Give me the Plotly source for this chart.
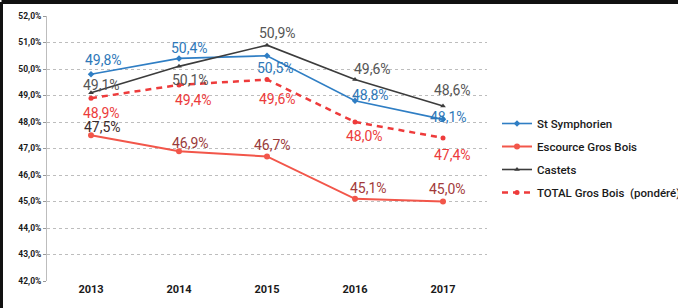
import plotly.graph_objects as go

years = ["2013", "2014", "2015", "2016", "2017"]
st_symphorien = [49.8, 50.4, 50.5, 48.8, 48.1]
escource = [47.5, 46.9, 46.7, 45.1, 45.0]
castets = [49.1, 50.1, 50.9, 49.6, 48.6]
total = [48.9, 49.4, 49.6, 48.0, 47.4]
y_ticks = [42, 43, 44, 45, 46, 47, 48, 49, 50, 51, 52]
names = ["St Symphorien", "Escource Gros Bois", "Castets", "TOTAL Gros Bois  (pondéré)"]

W, H = 678, 308
ML, MR, MT, MB = 47, 0, 16, 27
PW = W - ML - MR
PH = H - MT - MB

BLUE = "#2f7ec4"
RED = "#f2564a"
DARK = "#3c3c3c"
TRED = "#ee3b3b"
FONT = "Roboto, Liberation Sans, sans-serif"

fig = go.Figure()
fig.add_trace(go.Scatter(x=years, y=st_symphorien, name=names[0], mode="lines+markers", legendgroup="a",
                         line=dict(color=BLUE, width=1.6), marker=dict(symbol="diamond", size=5)))
fig.add_trace(go.Scatter(x=years, y=escource, name=names[1], mode="lines+markers", legendgroup="b",
                         line=dict(color=RED, width=2), marker=dict(symbol="circle", size=6)))
fig.add_trace(go.Scatter(x=years, y=castets, name=names[2], mode="lines+markers", legendgroup="c",
                         line=dict(color=DARK, width=1.6), marker=dict(symbol="triangle-up", size=5)))
fig.add_trace(go.Scatter(x=years, y=total, name=names[3], mode="lines+markers", legendgroup="d",
                         line=dict(color=TRED, width=2.5, dash="6px,5px"),
                         marker=dict(symbol="circle", size=5)))

def fmt(v):
    return f"{v:.1f}".replace(".", ",") + "%"

# (series, colors, pixel shifts per point)
label_specs = [
    (st_symphorien, ["#2e78b8"] * 5, [(12, 14), (10, 10), (8, -12), (15, 6), (5, 2)]),
    (castets, ["#555555"] * 5, [(10, 8), (11, -14), (10, 12), (17, 11), (9, 16)]),
    (escource, ["#3a2a2a", "#9a3a3a", "#9a3a3a", "#a33a3a", "#a33a3a"], [(11, 8), (11, 8), (5, 11), (13, 11), (4, 13)]),
    (total, ["#ec3b3b"] * 5, [(10, -15), (14, -15), (10, -19), (9, -14), (9, -17)]),
]
for series, colors, shifts in label_specs:
    for i, (v, c, (dx, dy)) in enumerate(zip(series, colors, shifts)):
        fig.add_annotation(x=i, y=v, text=fmt(v), showarrow=False, xshift=dx, yshift=dy,
                           font=dict(family=FONT, size=14, color=c))

# outer frame
x0 = (-ML + 1.5) / PW
x1 = (W - ML) / PW
y0 = -MB / PH
y1 = (H - MB - 2) / PH
fig.add_shape(type="line", xref="paper", yref="paper", x0=x0, x1=x1, y0=y1, y1=y1,
              line=dict(color="#111111", width=4))
fig.add_shape(type="line", xref="paper", yref="paper", x0=x0, x1=x0, y0=y0, y1=y1,
              line=dict(color="#111111", width=3))

fig.update_layout(
    width=W, height=H,
    margin=dict(l=ML, r=MR, t=MT, b=MB, autoexpand=False),
    paper_bgcolor="white", plot_bgcolor="white",
    separators=", ",
    showlegend=True,
    legend=dict(x=(497 - ML) / PW, y=(H - MB - 109) / PH, xanchor="left", yanchor="top",
                font=dict(family=FONT, size=11.5, color="#1a1a1a", weight=500), tracegroupgap=4,
                itemwidth=30, bgcolor="rgba(0,0,0,0)"),
    xaxis=dict(domain=[0, 440 / PW], type="category", range=[-0.5, 4.5], autorange=False,
               showgrid=False, showline=False, automargin=False,
               ticks="", tickfont=dict(family=FONT, size=11, color="#1a1a1a", weight="bold")),
    yaxis=dict(range=[42, 52], tickvals=y_ticks, ticktext=[fmt(t) for t in y_ticks],
               automargin=False,
               showgrid=True, gridcolor="#bdbdbd", griddash="dot", gridwidth=1,
               showline=True, linecolor="#bdbdbd", linewidth=1,
               ticks="outside", ticklen=3, tickcolor="#999999",
               tickfont=dict(family=FONT, size=8.5, color="#1a1a1a", weight="bold"), zeroline=False),
)
fig.write_html("out.html", config={"displayModeBar": False},
               post_script="document.body.style.margin='0';document.body.style.overflow='hidden';")
